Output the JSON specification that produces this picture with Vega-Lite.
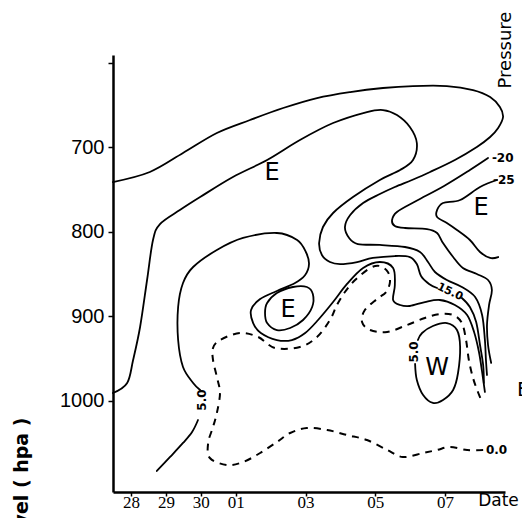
{
 "$schema": "https://vega.github.io/schema/vega-lite/v6.json",
 "width": 392, "height": 437,
 "autosize": {"type": "none"},
 "padding": {"left": 113, "top": 55, "right": 17, "bottom": 26},
 "background": "white",
 "config": {"view": {"stroke": null}, "axis": {"grid": false, "domainColor": "black", "tickColor": "black", "labelColor": "black", "titleColor": "black"}},
 "datasets": {
  "lines": [
   {"id":"c1","o":1,"d":-0.52,"p":741.0},{"id":"c1","o":2,"d":0.54,"p":729.1},{"id":"c1","o":3,"d":1.49,"p":706.6},{"id":"c1","o":4,"d":2.46,"p":682.9},{"id":"c1","o":5,"d":3.41,"p":667.5},{"id":"c1","o":6,"d":4.36,"p":653.3},{"id":"c1","o":7,"d":5.33,"p":641.5},{"id":"c1","o":8,"d":6.28,"p":634.4},{"id":"c1","o":9,"d":7.22,"p":629.6},{"id":"c1","o":10,"d":8.08,"p":627.3},{"id":"c1","o":11,"d":9.05,"p":627.3},{"id":"c1","o":12,"d":9.80,"p":632.0},{"id":"c1","o":13,"d":10.29,"p":640.3},{"id":"c1","o":14,"d":10.57,"p":652.1},{"id":"c1","o":15,"d":10.66,"p":664.0},{"id":"c1","o":16,"d":10.52,"p":677.0},{"id":"c1","o":17,"d":10.29,"p":687.7},{"id":"c1","o":18,"d":9.91,"p":699.5},{"id":"c1","o":19,"d":9.28,"p":714.9},{"id":"c1","o":20,"d":8.57,"p":729.1},{"id":"c1","o":21,"d":8.05,"p":738.6},{"id":"c1","o":22,"d":7.56,"p":746.9},{"id":"c1","o":23,"d":7.13,"p":755.2},{"id":"c1","o":24,"d":6.65,"p":765.9},{"id":"c1","o":25,"d":6.28,"p":780.1},{"id":"c1","o":26,"d":6.13,"p":794.3},{"id":"c1","o":27,"d":6.25,"p":807.3},{"id":"c1","o":28,"d":6.50,"p":814.5},{"id":"c1","o":29,"d":7.13,"p":815.6},{"id":"c1","o":30,"d":7.85,"p":818.0},{"id":"c1","o":31,"d":8.28,"p":823.9},{"id":"c1","o":32,"d":8.51,"p":835.8},{"id":"c1","o":33,"d":8.71,"p":847.6},{"id":"c1","o":34,"d":9.05,"p":857.1},{"id":"c1","o":35,"d":9.48,"p":865.4},{"id":"c1","o":36,"d":9.86,"p":877.3},{"id":"c1","o":37,"d":10.06,"p":898.6},{"id":"c1","o":38,"d":10.14,"p":928.2},{"id":"c1","o":39,"d":10.17,"p":951.9},{"id":"c1","o":40,"d":10.20,"p":969.7},
   {"id":"m20","o":1,"d":10.23,"p":712.6},{"id":"m20","o":2,"d":9.71,"p":726.8},{"id":"m20","o":3,"d":8.97,"p":745.7},{"id":"m20","o":4,"d":8.17,"p":763.5},{"id":"m20","o":5,"d":7.62,"p":776.5},{"id":"m20","o":6,"d":7.48,"p":786.0},{"id":"m20","o":7,"d":7.56,"p":793.1},{"id":"m20","o":8,"d":7.85,"p":795.5},{"id":"m20","o":9,"d":8.48,"p":796.7},{"id":"m20","o":10,"d":8.77,"p":801.4},{"id":"m20","o":11,"d":8.94,"p":813.3},{"id":"m20","o":12,"d":9.23,"p":829.9},{"id":"m20","o":13,"d":9.51,"p":842.9},{"id":"m20","o":14,"d":9.91,"p":850.0},{"id":"m20","o":15,"d":10.23,"p":857.1},{"id":"m20","o":16,"d":10.34,"p":869.0},{"id":"m20","o":17,"d":10.26,"p":886.7},{"id":"m20","o":18,"d":10.20,"p":910.4},{"id":"m20","o":19,"d":10.23,"p":934.1},{"id":"m20","o":20,"d":10.32,"p":955.4},
   {"id":"m25","o":1,"d":10.49,"p":738.6},{"id":"m25","o":2,"d":10.00,"p":746.9},{"id":"m25","o":3,"d":9.43,"p":762.3},{"id":"m25","o":4,"d":8.94,"p":765.9},{"id":"m25","o":5,"d":8.77,"p":774.2},{"id":"m25","o":6,"d":8.77,"p":782.5},{"id":"m25","o":7,"d":9.05,"p":789.6},{"id":"m25","o":8,"d":9.34,"p":797.9},{"id":"m25","o":9,"d":9.71,"p":809.7},{"id":"m25","o":10,"d":10.00,"p":823.9},{"id":"m25","o":11,"d":10.29,"p":831.0},{"id":"m25","o":12,"d":10.52,"p":829.9},
   {"id":"c2","o":1,"d":-0.52,"p":991.0},{"id":"c2","o":2,"d":-0.11,"p":979.1},{"id":"c2","o":3,"d":0.06,"p":951.9},{"id":"c2","o":4,"d":0.26,"p":912.8},{"id":"c2","o":5,"d":0.46,"p":857.1},{"id":"c2","o":6,"d":0.63,"p":809.7},{"id":"c2","o":7,"d":0.83,"p":790.8},{"id":"c2","o":8,"d":1.40,"p":774.2},{"id":"c2","o":9,"d":1.98,"p":758.8},{"id":"c2","o":10,"d":2.92,"p":735.1},{"id":"c2","o":11,"d":3.90,"p":714.9},{"id":"c2","o":12,"d":4.84,"p":691.2},{"id":"c2","o":13,"d":5.79,"p":671.1},{"id":"c2","o":14,"d":6.76,"p":658.1},{"id":"c2","o":15,"d":7.22,"p":655.7},{"id":"c2","o":16,"d":7.62,"p":661.6},{"id":"c2","o":17,"d":7.99,"p":675.8},{"id":"c2","o":18,"d":8.19,"p":694.8},{"id":"c2","o":19,"d":8.08,"p":714.9},{"id":"c2","o":20,"d":7.71,"p":726.8},{"id":"c2","o":21,"d":7.13,"p":738.6},{"id":"c2","o":22,"d":6.36,"p":758.8},{"id":"c2","o":23,"d":5.79,"p":777.7},{"id":"c2","o":24,"d":5.50,"p":794.3},{"id":"c2","o":25,"d":5.39,"p":813.3},{"id":"c2","o":26,"d":5.47,"p":827.5},{"id":"c2","o":27,"d":5.70,"p":835.8},{"id":"c2","o":28,"d":5.99,"p":838.2},{"id":"c2","o":29,"d":6.48,"p":835.8},{"id":"c2","o":30,"d":6.93,"p":831.0},{"id":"c2","o":31,"d":7.56,"p":828.7},{"id":"c2","o":32,"d":7.99,"p":829.9},{"id":"c2","o":33,"d":8.19,"p":838.2},{"id":"c2","o":34,"d":8.31,"p":852.4},{"id":"c2","o":35,"d":8.54,"p":861.8},{"id":"c2","o":36,"d":8.77,"p":866.6},
   {"id":"c2b","o":1,"d":9.48,"p":878.4},{"id":"c2b","o":2,"d":9.71,"p":889.1},{"id":"c2b","o":3,"d":9.89,"p":906.9},{"id":"c2b","o":4,"d":10.00,"p":934.1},{"id":"c2b","o":5,"d":10.09,"p":957.8},{"id":"c2b","o":6,"d":10.11,"p":979.1},
   {"id":"c3a","o":1,"d":0.74,"p":1083.4},{"id":"c3a","o":2,"d":1.12,"p":1066.8},{"id":"c3a","o":3,"d":1.49,"p":1050.2},{"id":"c3a","o":4,"d":1.75,"p":1037.2},{"id":"c3a","o":5,"d":1.92,"p":1023.0},
   {"id":"c3b","o":1,"d":1.98,"p":987.4},{"id":"c3b","o":2,"d":1.78,"p":979.1},{"id":"c3b","o":3,"d":1.49,"p":960.2},{"id":"c3b","o":4,"d":1.35,"p":928.2},{"id":"c3b","o":5,"d":1.35,"p":889.1},{"id":"c3b","o":6,"d":1.49,"p":860.7},{"id":"c3b","o":7,"d":1.78,"p":841.7},{"id":"c3b","o":8,"d":2.46,"p":821.6},{"id":"c3b","o":9,"d":3.21,"p":807.3},{"id":"c3b","o":10,"d":4.18,"p":801.4},{"id":"c3b","o":11,"d":4.76,"p":809.7},{"id":"c3b","o":12,"d":5.01,"p":823.9},{"id":"c3b","o":13,"d":5.10,"p":838.2},{"id":"c3b","o":14,"d":4.99,"p":851.2},{"id":"c3b","o":15,"d":4.70,"p":860.7},{"id":"c3b","o":16,"d":4.18,"p":870.1},{"id":"c3b","o":17,"d":3.70,"p":879.6},{"id":"c3b","o":18,"d":3.44,"p":892.7},{"id":"c3b","o":19,"d":3.50,"p":908.1},{"id":"c3b","o":20,"d":3.72,"p":919.9},{"id":"c3b","o":21,"d":4.18,"p":928.2},{"id":"c3b","o":22,"d":4.61,"p":928.2},{"id":"c3b","o":23,"d":4.99,"p":919.9},{"id":"c3b","o":24,"d":5.36,"p":904.5},{"id":"c3b","o":25,"d":5.79,"p":883.2},{"id":"c3b","o":26,"d":6.19,"p":861.8},{"id":"c3b","o":27,"d":6.65,"p":842.9},{"id":"c3b","o":28,"d":7.13,"p":835.8},{"id":"c3b","o":29,"d":7.51,"p":842.9},{"id":"c3b","o":30,"d":7.56,"p":863.0},{"id":"c3b","o":31,"d":7.51,"p":880.8},{"id":"c3b","o":32,"d":7.71,"p":886.7},{"id":"c3b","o":33,"d":7.99,"p":887.9},{"id":"c3b","o":34,"d":8.42,"p":883.2},{"id":"c3b","o":35,"d":8.85,"p":880.8},{"id":"c3b","o":36,"d":9.28,"p":886.7},{"id":"c3b","o":37,"d":9.63,"p":898.6},{"id":"c3b","o":38,"d":9.83,"p":918.7},{"id":"c3b","o":39,"d":9.97,"p":942.4},{"id":"c3b","o":40,"d":10.06,"p":966.1},{"id":"c3b","o":41,"d":10.14,"p":989.8},
   {"id":"w","o":1,"d":8.22,"p":928.2},{"id":"w","o":2,"d":8.34,"p":919.9},{"id":"w","o":3,"d":8.65,"p":911.6},{"id":"w","o":4,"d":9.05,"p":908.1},{"id":"w","o":5,"d":9.34,"p":916.4},{"id":"w","o":6,"d":9.43,"p":936.5},{"id":"w","o":7,"d":9.37,"p":967.3},{"id":"w","o":8,"d":9.23,"p":987.4},{"id":"w","o":9,"d":8.94,"p":999.3},{"id":"w","o":10,"d":8.65,"p":1002.8},{"id":"w","o":11,"d":8.37,"p":993.4},{"id":"w","o":12,"d":8.19,"p":975.6},{"id":"w","o":13,"d":8.14,"p":956.6},
   {"id":"ein","o":1,"d":3.84,"p":896.2},{"id":"ein","o":2,"d":3.90,"p":884.4},{"id":"ein","o":3,"d":4.18,"p":872.5},{"id":"ein","o":4,"d":4.64,"p":865.4},{"id":"ein","o":5,"d":5.04,"p":865.4},{"id":"ein","o":6,"d":5.21,"p":873.7},{"id":"ein","o":7,"d":5.19,"p":889.1},{"id":"ein","o":8,"d":4.93,"p":904.5},{"id":"ein","o":9,"d":4.56,"p":914.0},{"id":"ein","o":10,"d":4.18,"p":916.4},{"id":"ein","o":11,"d":3.90,"p":908.1},
   {"id":"d1","o":1,"d":10.09,"p":1058.5},{"id":"d1","o":2,"d":9.63,"p":1058.5},{"id":"d1","o":3,"d":9.14,"p":1055.0},{"id":"d1","o":4,"d":8.77,"p":1058.5},{"id":"d1","o":5,"d":8.37,"p":1062.1},{"id":"d1","o":6,"d":7.79,"p":1066.8},{"id":"d1","o":7,"d":7.34,"p":1058.5},{"id":"d1","o":8,"d":6.76,"p":1046.7},{"id":"d1","o":9,"d":6.19,"p":1040.8},{"id":"d1","o":10,"d":5.62,"p":1034.8},{"id":"d1","o":11,"d":5.04,"p":1032.5},{"id":"d1","o":12,"d":4.56,"p":1038.4},{"id":"d1","o":13,"d":4.18,"p":1049.1},{"id":"d1","o":14,"d":3.70,"p":1062.1},{"id":"d1","o":15,"d":3.21,"p":1072.8},{"id":"d1","o":16,"d":2.75,"p":1076.3},{"id":"d1","o":17,"d":2.26,"p":1068.0},{"id":"d1","o":18,"d":2.21,"p":1050.2},{"id":"d1","o":19,"d":2.35,"p":1031.3},{"id":"d1","o":20,"d":2.46,"p":1014.7},{"id":"d1","o":21,"d":2.55,"p":991.0},{"id":"d1","o":22,"d":2.46,"p":972.0},{"id":"d1","o":23,"d":2.35,"p":951.9},{"id":"d1","o":24,"d":2.35,"p":937.7},{"id":"d1","o":25,"d":2.55,"p":928.2},{"id":"d1","o":26,"d":3.12,"p":919.9},{"id":"d1","o":27,"d":3.64,"p":924.6},{"id":"d1","o":28,"d":4.13,"p":937.7},{"id":"d1","o":29,"d":4.84,"p":936.5},{"id":"d1","o":30,"d":5.33,"p":924.6},{"id":"d1","o":31,"d":5.70,"p":904.5},{"id":"d1","o":32,"d":5.90,"p":886.7},{"id":"d1","o":33,"d":6.13,"p":871.3},{"id":"d1","o":34,"d":6.42,"p":857.1},{"id":"d1","o":35,"d":6.85,"p":842.9},{"id":"d1","o":36,"d":7.13,"p":840.5},{"id":"d1","o":37,"d":7.36,"p":847.6},{"id":"d1","o":38,"d":7.42,"p":859.5},{"id":"d1","o":39,"d":7.31,"p":871.3},{"id":"d1","o":40,"d":7.05,"p":879.6},{"id":"d1","o":41,"d":6.70,"p":892.7},{"id":"d1","o":42,"d":6.62,"p":906.9},{"id":"d1","o":43,"d":6.85,"p":916.4},{"id":"d1","o":44,"d":7.34,"p":918.7},{"id":"d1","o":45,"d":7.91,"p":910.4},{"id":"d1","o":46,"d":8.42,"p":902.1},{"id":"d1","o":47,"d":8.85,"p":897.4},{"id":"d1","o":48,"d":9.23,"p":898.6},{"id":"d1","o":49,"d":9.48,"p":908.1},{"id":"d1","o":50,"d":9.60,"p":928.2},{"id":"d1","o":51,"d":9.68,"p":951.9},{"id":"d1","o":52,"d":9.80,"p":973.2},{"id":"d1","o":53,"d":9.94,"p":989.8},{"id":"d1","o":54,"d":10.06,"p":1001.7}
  ],
  "labels": [
   {"t":"E","k":"big","d":4.04,"p":730.3},
   {"t":"E","k":"big","d":10.03,"p":771.8},
   {"t":"E","k":"big","d":4.50,"p":892.7},
   {"t":"W","k":"big","d":8.77,"p":961.4},
   {"t":"-20","k":"val","d":10.34,"p":712.6},
   {"t":"-25","k":"val","d":10.37,"p":738.6},
   {"t":"0.0","k":"val","d":10.17,"p":1058.5},
   {"t":"15.0","k":"slant","d":9.14,"p":871.3},
   {"t":"5.0","k":"vert","d":2.03,"p":999.3},
   {"t":"5.0","k":"vert","d":8.11,"p":942.4},
   {"t":"Pressure","k":"edge","d":10.74,"p":584.6},
   {"t":"E","k":"edgeE","d":11.06,"p":987.4}
  ]
 },
 "encoding": {
  "x": {"field": "d", "type": "quantitative",
        "scale": {"domain": [-0.516, 10.716], "nice": false, "zero": false},
        "axis": {"values": [0,1,2,3,5,7,9], "labelExpr": "['28','29','30','01','','03','','05','','07'][datum.value]",
                 "title": "Date", "titleX": 385, "titleY": 13, "titleAlign": "center", "titleBaseline": "alphabetic", "titleAnchor": null,
                 "titleFont": "DejaVu Sans", "titleFontSize": 17, "titleFontWeight": "normal",
                 "labelFont": "Liberation Sans Narrow", "labelFontSize": 17, "labelPadding": -2, "tickSize": 4, "tickWidth": 1.5,
                 "domainWidth": 2.5, "labelFlush": false, "labelOverlap": false}},
  "y": {"field": "p", "type": "quantitative",
        "scale": {"domain": [590.5, 1108.3], "reverse": true, "nice": false, "zero": false},
        "axis": {"values": [600,700,800,900,1000], "format": "d", "labelExpr": "datum.value == 600 ? '' : datum.label",
                 "title": "Pressure level ( hpa )", "titleX": -86, "titleY": 362, "titleAlign": "right", "titleAngle": 270, "titleBaseline": "alphabetic", "titleAnchor": null,
                 "titleFont": "DejaVu Sans", "titleFontSize": 19, "titleFontWeight": "bold",
                 "labelFont": "Liberation Sans", "labelFontSize": 20, "labelPadding": 4, "tickSize": 5, "tickWidth": 1.5,
                 "domainWidth": 2.5, "labelFlush": false, "labelOverlap": false, "labelBaseline": "middle"}}
 },
 "layer": [
  {"data": {"name": "lines"}, "transform": [{"filter": "datum.id != 'd1' && datum.id != 'ein'"}],
   "mark": {"type": "line", "interpolate": "cardinal", "color": "black", "strokeWidth": 1.8, "strokeCap": "round"},
   "encoding": {"detail": {"field": "id"}, "order": {"field": "o"}}},
  {"data": {"name": "lines"}, "transform": [{"filter": "datum.id == 'ein'"}],
   "mark": {"type": "line", "interpolate": "cardinal-closed", "color": "black", "strokeWidth": 1.8},
   "encoding": {"detail": {"field": "id"}, "order": {"field": "o"}}},
  {"data": {"name": "lines"}, "transform": [{"filter": "datum.id == 'd1'"}],
   "mark": {"type": "line", "interpolate": "cardinal", "color": "black", "strokeWidth": 2, "strokeDash": [7, 6]},
   "encoding": {"detail": {"field": "id"}, "order": {"field": "o"}}},
  {"data": {"name": "labels"}, "transform": [{"filter": "datum.k == 'big'"}],
   "mark": {"type": "text", "font": "DejaVu Sans", "fontSize": 24, "color": "black", "align": "center", "baseline": "middle"},
   "encoding": {"text": {"field": "t"}}},
  {"data": {"name": "labels"}, "transform": [{"filter": "datum.k == 'val'"}],
   "mark": {"type": "text", "font": "DejaVu Sans", "fontSize": 12, "fontWeight": "bold", "color": "black", "align": "left", "baseline": "middle"},
   "encoding": {"text": {"field": "t"}}},
  {"data": {"name": "labels"}, "transform": [{"filter": "datum.k == 'slant'"}],
   "mark": {"type": "text", "font": "DejaVu Sans", "fontSize": 11, "fontWeight": "bold", "color": "black", "align": "center", "baseline": "middle", "angle": 25},
   "encoding": {"text": {"field": "t"}}},
  {"data": {"name": "labels"}, "transform": [{"filter": "datum.k == 'vert'"}],
   "mark": {"type": "text", "font": "DejaVu Sans", "fontSize": 12, "fontWeight": "bold", "color": "black", "align": "center", "baseline": "middle", "angle": 270},
   "encoding": {"text": {"field": "t"}}},
  {"data": {"name": "labels"}, "transform": [{"filter": "datum.k == 'edge'"}],
   "mark": {"type": "text", "font": "DejaVu Sans", "fontSize": 18, "color": "black", "align": "center", "baseline": "middle", "angle": 270},
   "encoding": {"text": {"field": "t"}}},
  {"data": {"name": "labels"}, "transform": [{"filter": "datum.k == 'edgeE'"}],
   "mark": {"type": "text", "font": "DejaVu Sans", "fontSize": 20, "color": "black", "align": "left", "baseline": "middle"},
   "encoding": {"text": {"field": "t"}}}
 ]
}
